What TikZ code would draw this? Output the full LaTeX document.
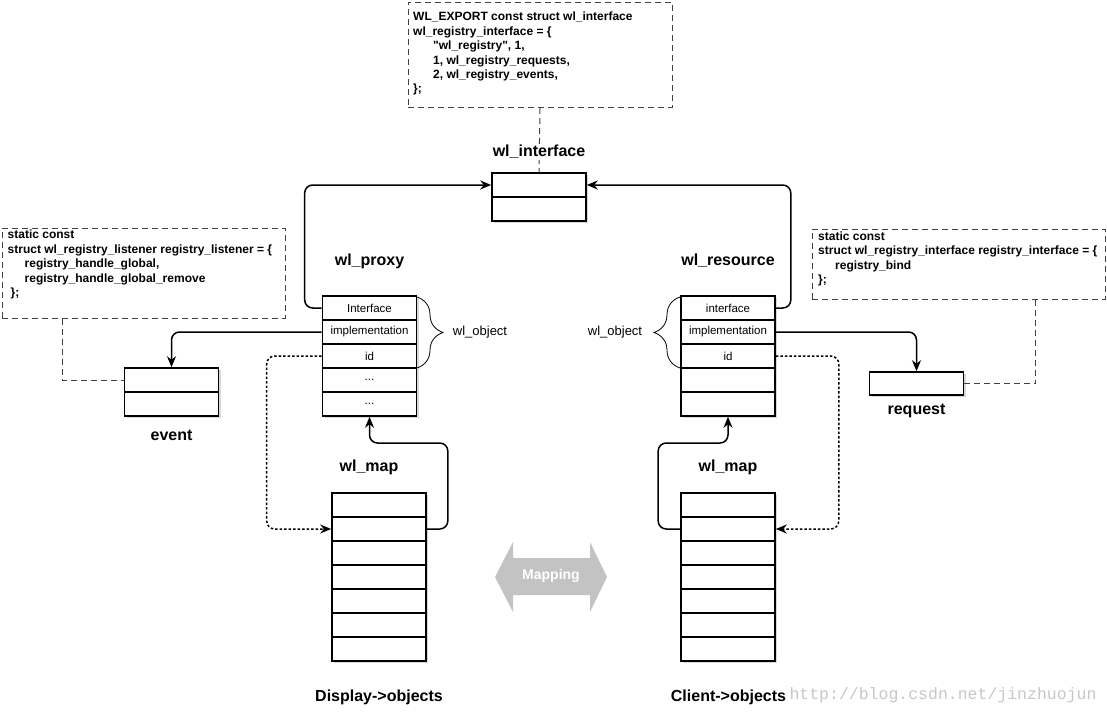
\documentclass[tikz,border=0pt]{standalone}
\usepackage{fontspec}
\setmainfont{Liberation Sans}
\setmonofont{Liberation Mono}
\newfontfamily\codefont[Ligatures=TeXOff]{Liberation Sans}
\usetikzlibrary{arrows.meta, shadows, decorations.pathreplacing}
\definecolor{mapgray}{RGB}{195,195,195}
\tikzstyle{cell} = [draw, line width=1.6pt, fill=white, minimum width=94pt, minimum height=24pt, inner sep=0pt, font=\fontsize{11.5}{13}\selectfont, drop shadow={shadow xshift=2pt, shadow yshift=-2pt, opacity=0.3}]
\tikzstyle{title} = [font=\bfseries\fontsize{16}{18}\selectfont]
\tikzstyle{codebox} = [draw=black!75, line width=1pt, dash pattern=on 6pt off 4pt, inner sep=0pt]
\tikzstyle{code} = [anchor=north west, align=left, inner sep=0pt, font=\codefont\bfseries\fontsize{12}{14.4}\selectfont]
\tikzstyle{arrow} = [line width=1.5pt, rounded corners=8pt, -{Stealth[length=11pt,width=9pt]}]
\tikzstyle{dotarrow} = [arrow, dash pattern=on 2.5pt off 2pt]
\tikzstyle{codelink} = [draw=black!75, line width=1pt, dash pattern=on 6pt off 4pt]
\tikzstyle{brace} = [decorate, decoration={brace, amplitude=26pt}, line width=0.8pt]

\begin{document}
\begin{tikzpicture}[x=1pt, y=-1pt]
	\useasboundingbox (0,0) rectangle (1107,714);

	% code boxes
	\node[codebox, minimum width=264pt, minimum height=105pt] (ifcode) at (540,55) {};
	\node[code] (ifcodetext) at (413,12) {WL\_EXPORT const struct wl\_interface\\
		wl\_registry\_interface = \{\\
		\hspace*{20pt}"wl\_registry", 1,\\
		\hspace*{20pt}1, wl\_registry\_requests,\\
		\hspace*{20pt}2, wl\_registry\_events,\\
		\};};
	\node[codebox, minimum width=283pt, minimum height=90pt] (lcode) at (143.5,273) {};
	\node[code] (lcodetext) at (7.5,230) {static const\\
		struct wl\_registry\_listener registry\_listener = \{\\
		\hspace*{17pt}registry\_handle\_global,\\
		\hspace*{17pt}registry\_handle\_global\_remove\\
		\hspace*{3pt}\};};
	\node[codebox, minimum width=293pt, minimum height=70pt] (rcode) at (958.5,264) {};
	\node[code] (rcodetext) at (818,231.5) {static const\\
		struct wl\_registry\_interface registry\_interface = \{\\
		\hspace*{17pt}registry\_bind\\
		\};};

	% wl_interface
	\node[cell] (iface1) at (539,185) {};
	\node[cell] (iface2) at (539,209) {};
	\draw[codelink] (ifcode.south) -- (iface1.north);
	\node[title, fill=white, inner sep=1pt] (ifacelabel) at (539,152) {wl\_interface};

	% wl_proxy
	\node[title] (proxylabel) at (369.5,261) {wl\_proxy};
	\node[cell] (proxy1) at (369.5,308) {Interface};
	\node[cell] (proxy2) at (369.5,332) {implementation};
	\node[cell] (proxy3) at (369.5,356) {id};
	\node[cell] (proxy4) at (369.5,380) {...};
	\node[cell] (proxy5) at (369.5,404) {...};
	\draw[brace] (417,297) -- (417,368);
	\node[font=\fontsize{13}{15}\selectfont] (pobj) at (480,332) {wl\_object};

	% wl_resource
	\node[title] (reslabel) at (728,261) {wl\_resource};
	\node[cell] (res1) at (728,308) {interface};
	\node[cell] (res2) at (728,332) {implementation};
	\node[cell] (res3) at (728,356) {id};
	\node[cell] (res4) at (728,380) {};
	\node[cell] (res5) at (728,404) {};
	\draw[brace] (680,368) -- (680,297);
	\node[font=\fontsize{13}{15}\selectfont] (robj) at (615,332) {wl\_object};

	% event and request
	\node[cell] (ev1) at (171.5,380) {};
	\node[cell] (ev2) at (171.5,404) {};
	\node[title] (evlabel) at (171.5,435) {event};
	\node[cell, minimum height=23pt] (req) at (916.5,383.5) {};
	\node[title] (reqlabel) at (916.5,411) {request};

	% wl_map of the display
	\node[title] (pmaplabel) at (369,467) {wl\_map};
	\node[cell] (pmap1) at (379,505) {};
	\node[cell] (pmap2) at (379,529) {};
	\node[cell] (pmap3) at (379,553) {};
	\node[cell] (pmap4) at (379,577) {};
	\node[cell] (pmap5) at (379,601) {};
	\node[cell] (pmap6) at (379,625) {};
	\node[cell] (pmap7) at (379,649) {};
	\node[title] (displabel) at (379,697) {Display->objects};

	% wl_map of the client
	\node[title] (cmaplabel) at (728,467) {wl\_map};
	\node[cell] (cmap1) at (728,505) {};
	\node[cell] (cmap2) at (728,529) {};
	\node[cell] (cmap3) at (728,553) {};
	\node[cell] (cmap4) at (728,577) {};
	\node[cell] (cmap5) at (728,601) {};
	\node[cell] (cmap6) at (728,625) {};
	\node[cell] (cmap7) at (728,649) {};
	\node[title] (clientlabel) at (728.5,697) {Client->objects};

	% connectors
	\draw[arrow] (proxy1.west) -- ++(-17,0) |- (iface1.west);
	\draw[arrow] (res1.east) -- ++(15,0) |- (iface1.east);
	\draw[arrow] (proxy2.west) -| (ev1.north);
	\draw[arrow] (res2.east) -| (req.north);
	\draw[arrow] (pmap2.east) -- ++(21,0) -- ++(0,-86) -| (proxy5.south);
	\draw[arrow] (cmap2.west) -- ++(-22,0) -- ++(0,-86) -| (res5.south);
	\draw[dotarrow] (proxy3.west) -- ++(-55,0) |- (pmap2.west);
	\draw[dotarrow] (res3.east) -- ++(63,0) |- (cmap2.east);
	\draw[codelink] ([xshift=61pt]lcode.south west) |- (ev1.west);
	\draw[codelink] ([xshift=-70pt]rcode.south east) |- (req.east);

	% mapping
	\fill[mapgray] (495,577) -- (513,542) -- (513,558) -- (590,558) -- (590,542) -- (607,577) -- (590,612) -- (590,595) -- (513,595) -- (513,612) -- cycle;
	\node[white, font=\bfseries\fontsize{14}{16}\selectfont] (mapping) at (551,576) {Mapping};

	\node[anchor=west, text=black!22, font=\ttfamily\fontsize{16.5}{18}\selectfont] (watermark) at (786,695) {http://blog.csdn.net/jinzhuojun};
\end{tikzpicture}
\end{document}
